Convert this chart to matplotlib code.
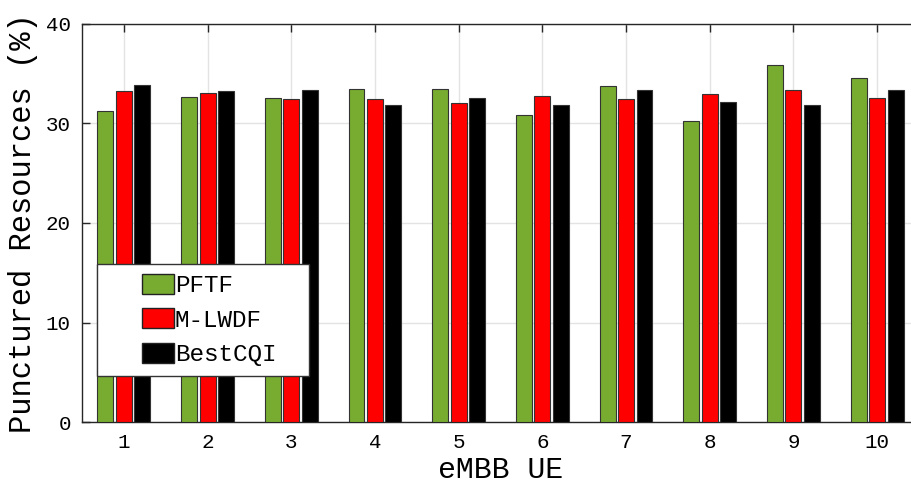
import numpy as np
import matplotlib
matplotlib.use('Agg')
import matplotlib.pyplot as plt
from matplotlib.patches import Patch, Rectangle
from matplotlib.legend_handler import HandlerPatch

ue = [1, 2, 3, 4, 5, 6, 7, 8, 9, 10]
pftf = [31.3, 32.7, 32.6, 33.5, 33.5, 30.9, 33.8, 30.3, 35.85, 34.6]
mlwdf = [33.3, 33.1, 32.5, 32.5, 32.1, 32.8, 32.5, 33.0, 33.4, 32.6]
bestcqi = [33.9, 33.3, 33.4, 31.9, 32.6, 31.9, 33.4, 32.2, 31.9, 33.4]

names = ['PFTF', 'M-LWDF', 'BestCQI']
colors = ['#77AC30', '#FF0000', '#000000']

plt.rcParams['font.family'] = ['Liberation Mono', 'DejaVu Sans Mono']

W, H = 912, 491
fig = plt.figure(figsize=(W / 100, H / 100), dpi=100)
# axes right edge falls just outside the image, as in the reference crop
ax = fig.add_axes([82 / W, 1 - 422 / H, (919 - 82) / W, (422 - 24) / H])

x = np.array(ue, dtype=float)
offs = [-0.22, 0.0, 0.22]
bw = 0.19
for vals, c, o, n in zip([pftf, mlwdf, bestcqi], colors, offs, names):
    ax.bar(x + o, vals, width=bw, color=c, edgecolor='#333333',
           linewidth=0.8, label=n, zorder=3)

ax.set_xlim(0.5, 10.5)
ax.set_ylim(0, 40)
ax.set_xticks(ue)
ax.set_yticks([0, 10, 20, 30, 40])
ax.grid(True, color='#e3e3e3', linewidth=1.0, zorder=0)
ax.set_axisbelow(True)
ax.tick_params(direction='in', top=True, right=True, length=6,
               width=1.0, labelsize=15, color='#262626', pad=8)
for s in ax.spines.values():
    s.set_linewidth(1.0)
    s.set_color('#262626')

ax.set_xlabel('eMBB UE', fontsize=21.5, labelpad=3)
ax.set_ylabel('Punctured Resources (%)', fontsize=22, labelpad=6)


def right_swatch(legend, orig_handle, xdescent, ydescent, width, height, fontsize):
    # swatch sits at the right end of a wide handle slot (MATLAB-like left gap)
    pw = 32.0 / 100 * 72
    return Rectangle((-xdescent + width - pw, -ydescent), pw, height)


handles = [Patch(facecolor=c, edgecolor='#222222', label=n)
           for c, n in zip(colors, names)]
leg = fig.legend(handles=handles, loc='upper left', mode='expand',
                 bbox_to_anchor=(97 / W, 1 - 375 / H, 212 / W, 111 / H),
                 fontsize=17.5, frameon=True, fancybox=False,
                 borderpad=0.4, labelspacing=0.45, handlelength=2.75,
                 handleheight=0.9, handletextpad=0.05, borderaxespad=0,
                 handler_map={Patch: HandlerPatch(patch_func=right_swatch)})
leg.get_frame().set_edgecolor('#333333')
leg.get_frame().set_linewidth(1.0)
leg.get_frame().set_alpha(1.0)

fig.savefig('out.png', dpi=100)
